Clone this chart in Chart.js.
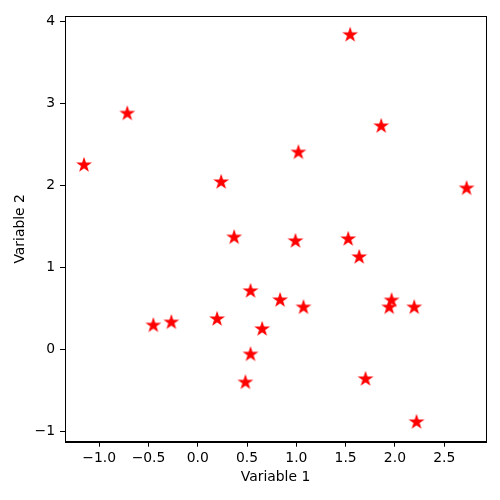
<!DOCTYPE html>
<html>
<head>
<meta charset="utf-8">
<script src="https://cdn.jsdelivr.net/npm/chart.js@4/dist/chart.umd.min.js"></script>
<style>
  html, body { margin: 0; padding: 0; background: #fff; }
  #wrap { width: 500px; height: 500px; }
</style>
</head>
<body>
<div id="wrap"><canvas id="c" width="500" height="500"></canvas></div>
<script>
const xValues = [-1.154, -0.715, 0.237, 1.546, 1.861, 1.021, 2.727, 0.369, 0.535, 0.835,
                 -0.451, -0.268, 0.196, 0.653, 0.535, 0.483, 0.991, 1.526, 1.638, 1.072,
                 1.966, 1.942, 2.196, 1.702, 2.219];
const yValues = [2.250, 2.880, 2.043, 3.840, 2.726, 2.405, 1.966, 1.368, 0.712, 0.601,
                 0.293, 0.330, 0.370, 0.248, -0.061, -0.403, 1.322, 1.347, 1.127, 0.513,
                 0.598, 0.513, 0.513, -0.363, -0.888];
const xTicks = [-1.0, -0.5, 0.0, 0.5, 1.0, 1.5, 2.0, 2.5];
const xTickLabels = ['\u22121.0', '\u22120.5', '0.0', '0.5', '1.0', '1.5', '2.0', '2.5'];
const yTicks = [-1, 0, 1, 2, 3, 4];
const yTickLabels = ['\u22121', '0', '1', '2', '3', '4'];
const xLabel = 'Variable 1';
const yLabel = 'Variable 2';

function makeStar(color) {
  const s = 18, c = document.createElement('canvas');
  c.width = s; c.height = s;
  const g = c.getContext('2d');
  const cx = s / 2, cy = s / 2, R = 6.4, r = R * 0.381966;
  g.beginPath();
  for (let i = 0; i < 10; i++) {
    const ang = -Math.PI / 2 + i * Math.PI / 5;
    const rad = i % 2 === 0 ? R : r;
    const px = cx + rad * Math.cos(ang), py = cy + rad * Math.sin(ang);
    if (i === 0) g.moveTo(px, py); else g.lineTo(px, py);
  }
  g.closePath();
  g.fillStyle = color; g.fill();
  g.lineWidth = 1.2; g.lineJoin = 'miter'; g.strokeStyle = color; g.stroke();
  return c;
}
const star = makeStar('#ff0000');

const points = xValues.map((x, i) => ({ x: x, y: yValues[i] }));

const framePlugin = {
  id: 'frame',
  afterDraw(chart) {
    const a = chart.chartArea, ctx = chart.ctx;
    ctx.save();
    ctx.strokeStyle = '#000'; ctx.lineWidth = 1;
    ctx.strokeRect(Math.round(a.left) + 0.5, Math.round(a.top) + 0.5,
                   Math.round(a.right - a.left), Math.round(a.bottom - a.top));
    ctx.restore();
  }
};

const font = { family: 'DejaVu Sans', size: 13.9 };

new Chart(document.getElementById('c'), {
  type: 'scatter',
  data: { datasets: [{ data: points, pointStyle: star, pointRadius: 7, pointHoverRadius: 7 }] },
  options: {
    responsive: false, animation: false,
    layout: { padding: { top: 16, right: 14, left: 0, bottom: 0 } },
    plugins: { legend: { display: false }, tooltip: { enabled: false } },
    scales: {
      x: {
        type: 'linear', min: -1.347, max: 2.924,
        afterFit(s) { s.height = 58.3; },
        afterBuildTicks(s) { s.ticks = xTicks.map(v => ({ value: v })); },
        ticks: { color: '#000', font: font, padding: 3, maxRotation: 0, autoSkip: false,
                 callback: (v, i) => xTickLabels[i] },
        grid: { display: true, drawOnChartArea: false, drawTicks: true, tickLength: 5, color: '#000' },
        border: { display: true, color: '#000', width: 1 },
        title: { display: true, text: xLabel, color: '#000', font: font, padding: { top: 0, bottom: 14 } }
      },
      y: {
        type: 'linear', min: -1.128, max: 4.07,
        afterFit(s) { s.width = 65; },
        afterBuildTicks(s) { s.ticks = yTicks.map(v => ({ value: v })); },
        ticks: { color: '#000', font: font, padding: 5, autoSkip: false,
                 callback: (v, i) => yTickLabels[i] },
        grid: { display: true, drawOnChartArea: false, drawTicks: true, tickLength: 5, color: '#000' },
        border: { display: true, color: '#000', width: 1 },
        title: { display: true, text: yLabel, color: '#000', font: font, padding: { top: 12, bottom: 0 } }
      }
    }
  },
  plugins: [framePlugin]
});
</script>
</body>
</html>
